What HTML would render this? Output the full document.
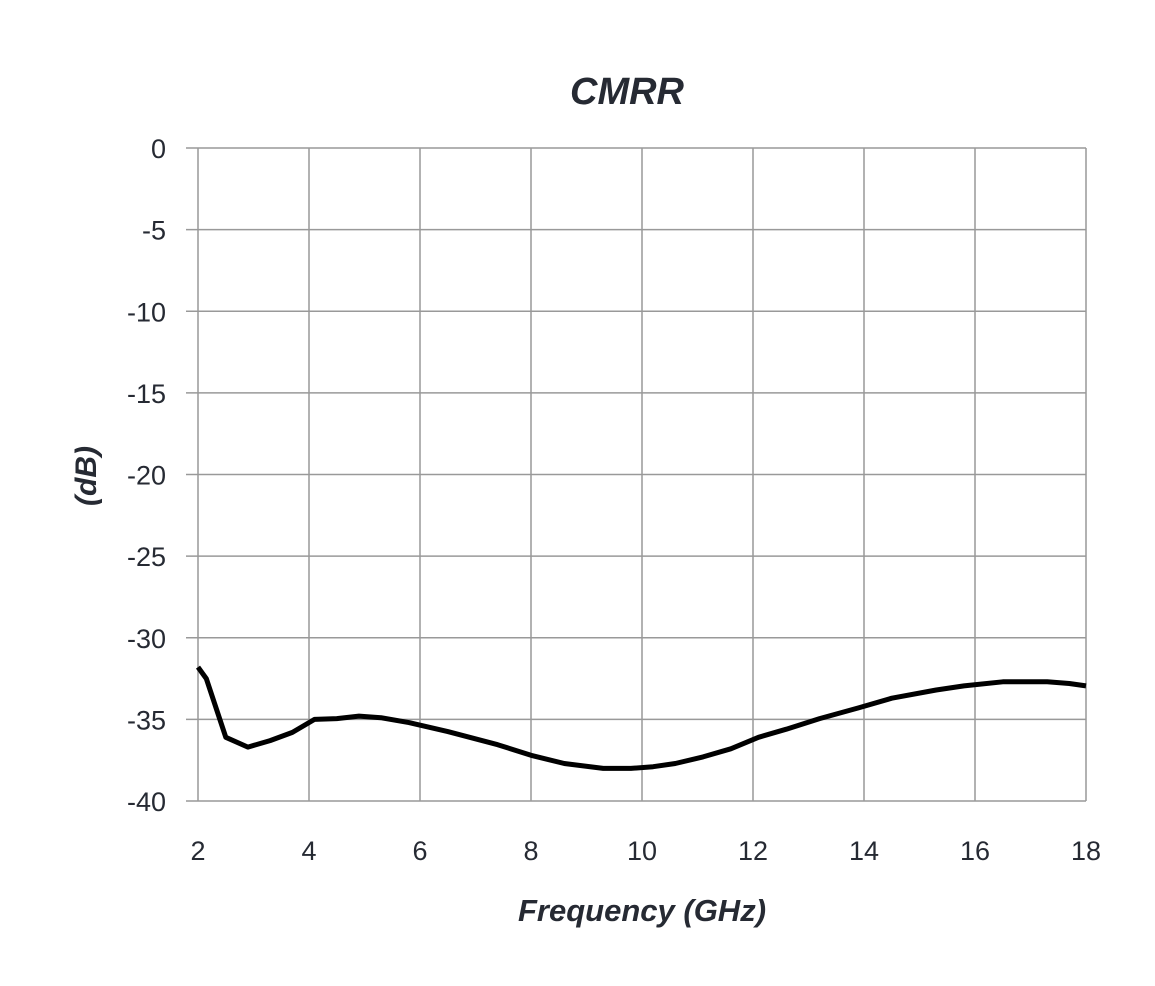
<!DOCTYPE html>
<html><head><meta charset="utf-8"><style>
html,body{margin:0;padding:0;background:#fff;}
svg{display:block;font-family:"Liberation Sans",sans-serif;}
</style></head><body>
<svg id="chart" width="1155" height="986">
<text x="627" y="104" text-anchor="middle" font-size="38" font-weight="bold" font-style="italic" fill="#262a33">CMRR</text>
<g id="grid"></g><g id="xt"></g><g id="yt"></g>
<text transform="translate(96,476) rotate(-90)" text-anchor="middle" font-size="30" font-weight="bold" font-style="italic" fill="#262a33">(dB)</text>
<text x="642" y="921" text-anchor="middle" font-size="31" font-weight="bold" font-style="italic" fill="#262a33">Frequency (GHz)</text>
<path id="line" fill="none" stroke="#000" stroke-width="5" stroke-linejoin="round"/>
</svg>
<script>
const xTicks=[2,4,6,8,10,12,14,16,18];
const yTicks=[0,-5,-10,-15,-20,-25,-30,-35,-40];
const freq=[2.0,2.15,2.5,2.9,3.3,3.7,4.1,4.5,4.9,5.3,5.8,6.5,7.4,8.0,8.6,9.3,9.8,10.2,10.6,11.1,11.6,12.1,12.6,13.2,13.9,14.5,15.3,15.8,16.5,17.3,17.7,18.0];
const cmrr=[-31.8,-32.5,-36.1,-36.7,-36.3,-35.8,-35.0,-34.95,-34.8,-34.9,-35.2,-35.75,-36.55,-37.2,-37.7,-38.0,-38.0,-37.9,-37.7,-37.3,-36.8,-36.1,-35.6,-34.95,-34.3,-33.7,-33.2,-32.95,-32.7,-32.7,-32.8,-32.95];
const X0=198,X1=1086,Y0=148,Y1=801;
const xs=v=>X0+(v-2)/16*(X1-X0);
const ys=v=>Y0+(0-v)/40*(Y1-Y0);
const NS="http://www.w3.org/2000/svg";
const grid=document.getElementById('grid'),xt=document.getElementById('xt'),yt=document.getElementById('yt');
function mk(tag,attrs,parent){const e=document.createElementNS(NS,tag);for(const k in attrs)e.setAttribute(k,attrs[k]);parent.appendChild(e);return e;}
xTicks.forEach(t=>{
 const l=mk('line',{x1:xs(t),x2:xs(t),y1:Y0,y2:Y1,stroke:'#999','stroke-width':1.5},grid);
 
 
 const tx=mk('text',{x:xs(t),y:860,'text-anchor':'middle','font-size':27,fill:'#262a33'},xt);
 tx.textContent=t;
 
 
});
yTicks.forEach(t=>{
 const l=mk('line',{x1:X0-12,x2:X1,y1:ys(t),y2:ys(t),stroke:'#999','stroke-width':1.5},grid);
 
 
 const tx=mk('text',{x:166,y:ys(t)+10,'text-anchor':'end','font-size':27,fill:'#262a33'},yt);
 tx.textContent=t;
 
 
});
document.getElementById('line').setAttribute('d',freq.map((f,i)=>(i?'L':'M')+xs(f).toFixed(1)+','+ys(cmrr[i]).toFixed(1)).join(''));
</script>
</body></html>
